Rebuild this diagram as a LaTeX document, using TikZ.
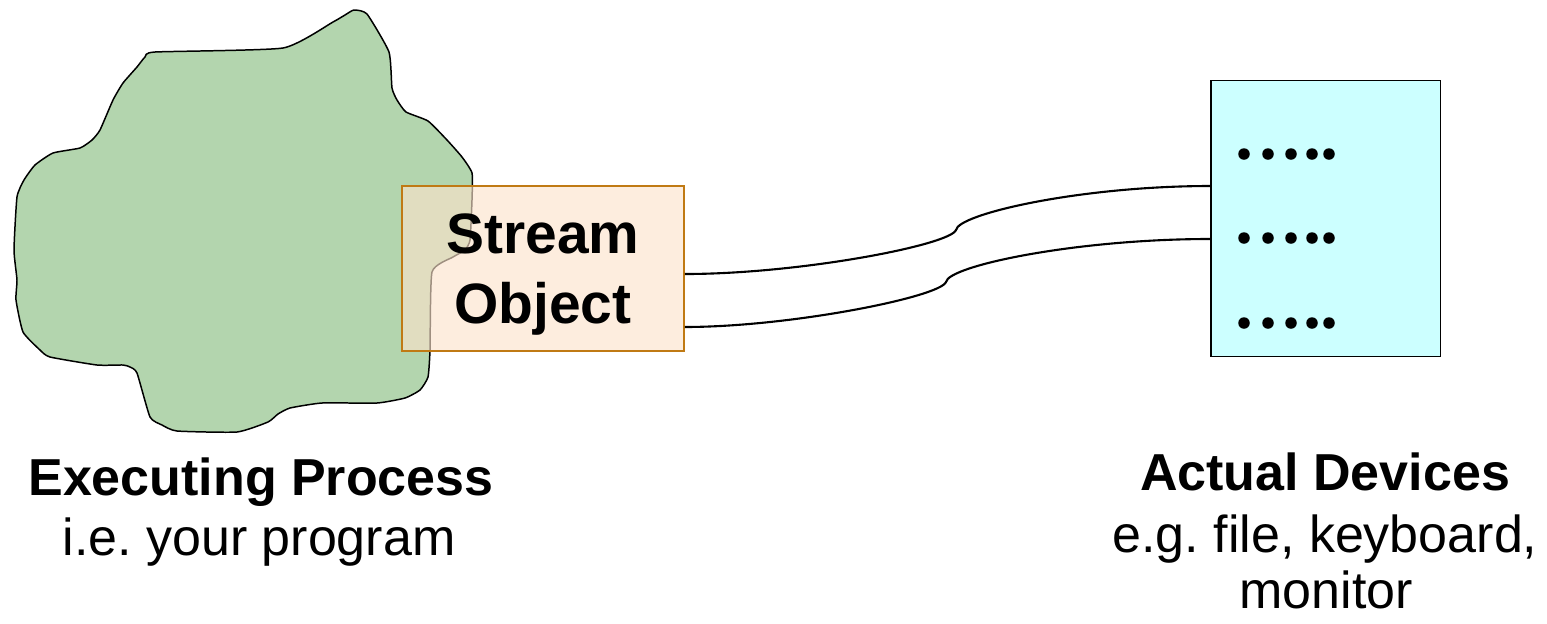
\documentclass[tikz,border=0pt]{standalone}
\usepackage{fontspec}
\setmainfont{Liberation Sans}
\frenchspacing
\definecolor{blobgreen}{RGB}{179,213,174}
\definecolor{streamfill}{RGB}{252,227,203}
\definecolor{streamline}{RGB}{192,122,20}
\definecolor{devfill}{RGB}{204,255,255}
\tikzset{
  streambox/.style={draw=streamline, line width=1.1pt, fill=streamfill,
    fill opacity=0.63, text opacity=1, minimum width=5.64cm,
    minimum height=3.3cm, inner sep=0pt, align=center,
    font=\fontsize{32.4}{40.3}\selectfont\bfseries},
  devbox/.style={draw, line width=0.9pt, fill=devfill,
    minimum width=4.59cm, minimum height=5.52cm, inner sep=0pt},
  tube/.style={line width=1.2pt},
  headtext/.style={anchor=base, font=\fontsize{29.6}{34}\selectfont\bfseries},
  subtext/.style={anchor=base, font=\fontsize{29.6}{34}\selectfont},
}

\begin{document}
\begin{tikzpicture}[x=0.02cm, y=-0.02cm]
\useasboundingbox (0,0) rectangle (1547,623);
% the process
\draw[fill=blobgreen, line width=0.85pt] plot[smooth cycle, tension=0.3] coordinates {
  (354,10) (367,14) (389,52) (392,88) (397,100) (406,112) (428,121)
  (447,140) (462,157) (472,173) (472,200) (470,240) (465,250) (453,257)
  (432,272) (430,350) (428,377) (420,390) (405,398) (377,403) (322,403)
  (290,408) (278,414) (268,422) (237,432) (177,431) (162,425) (150,417)
  (137,373) (130,367) (123,365) (97,365) (50,357) (40,350) (23,332)
  (16,300) (17,280) (14,250) (17,197) (24,180) (35,165) (53,153)
  (80,148) (92,140) (100,130) (113,100) (123,83) (137,67) (145,57)
  (155,52) (283,48) (333,22) (345,15)};
\node[streambox] (stream) at (543,268.5) {\rule{0pt}{29.5pt}Stream\\Object};
\node[devbox] (devices) at (1325.75,218.5) {};
\foreach \row in {154,238,323}
  \foreach \col in {1244,1268,1291,1312,1329}
    \fill (\col,\row) circle[radius=0.115cm];
% pipe walls
\coordinate (kinkA) at (956,230);
\coordinate (kinkB) at (946,282);
\draw[tube] ([yshift=-0.11cm]stream.east) .. controls (800,274) and (950,245) .. (kinkA)
  .. controls (958,214) and (1080,186) .. ([yshift=0.65cm]devices.west);
\draw[tube] ([yshift=-1.17cm]stream.east) .. controls (790,327) and (940,297) .. (kinkB)
  .. controls (948,266) and (1075,239) .. ([yshift=-0.41cm]devices.west);
\node[headtext] (proctitle) at (261,495) {Executing Process};
\node[subtext] (procnote) at (259,555) {i.e. your program};
\node[headtext] (devtitle) at (1325,490) {Actual Devices};
\node[subtext] (devnote) at (1325,552) {e.g. file, keyboard,};
\node[subtext] (devmore) at (1326,608) {monitor};
\end{tikzpicture}
\end{document}
